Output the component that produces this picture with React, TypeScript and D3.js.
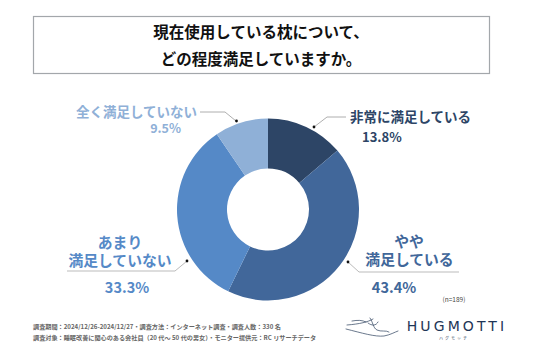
import React from "react";
import * as d3 from "d3";

const categories = ["非常に満足している", "やや満足している", "あまり満足していない", "全く満足していない"];
const values = [13.8, 43.4, 33.3, 9.5];
const colors = ["#2d4566", "#41679a", "#5589c7", "#8fb0d7"];
const titleLines = ["現在使用している枕について、", "どの程度満足していますか。"];
const footerLines = [
  "調査期間：2024/12/26-2024/12/27・調査方法：インターネット調査・調査人数：330 名",
  "調査対象：睡眠改善に関心のある会社員（20 代～ 50 代の男女）・モニター提供元：RC リサーチデータ",
];
const sampleNote = "(n=189)";

const FONT = "'Noto Sans CJK JP', 'Noto Sans', sans-serif";

export default function App() {
  const W = 536, H = 357;
  const cx = 268, cy = 209.5;
  const pie = d3.pie<number>().sort(null).startAngle(0).endAngle(2 * Math.PI);
  const arcs = pie(values);
  const arc = d3.arc<d3.PieArcDatum<number>>().innerRadius(41).outerRadius(91);
  const fmt = (v: number) => `${v.toFixed(1)}%`;

  return (
    <svg width={W} height={H} style={{ position: "absolute", left: 0, top: 0, background: "#fff" }} fontFamily={FONT}>
      <rect x={0} y={0} width={W} height={H} fill="#fff" />
      {/* title box */}
      <rect x={33.5} y={16.5} width={456} height={57} fill="#fff" stroke="#a3a7ab" strokeWidth={1.2} />
      {titleLines.map((t, i) => (
        <text key={i} x={261} y={38 + i * 27} textAnchor="middle" fontSize={15.5} fontWeight={700} fill="#111">{t}</text>
      ))}

      {/* donut */}
      <g transform={`translate(${cx},${cy})`}>
        {arcs.map((a, i) => (
          <path key={i} d={arc(a) || ""} fill={colors[i]} />
        ))}
      </g>

      {/* label 0: 非常に満足している */}
      <polyline points="314,127 327,117 346,117" fill="none" stroke="#999" strokeWidth={0.8} />
      <circle cx={314} cy={127} r={1.4} fill="#111" />
      <text x={350} y={122} fontSize={13.5} fontWeight={700} fill={colors[0]}>{categories[0]}</text>
      <text x={362} y={142} fontSize={13} fontWeight={700} fill={colors[0]}>{fmt(values[0])}</text>

      {/* label 3: 全く満足していない */}
      <polyline points="200,112 225,112 236,121" fill="none" stroke="#999" strokeWidth={0.8} />
      <circle cx={236.5} cy={121} r={1.4} fill="#111" />
      <text x={197} y={116.5} textAnchor="end" fontSize={13.5} fontWeight={700} fill={colors[3]}>{categories[3]}</text>
      <text x={181} y={132.5} textAnchor="end" fontSize={12.5} fontWeight={700} fill={colors[3]}>{fmt(values[3])}</text>

      {/* label 2: あまり満足していない */}
      <polyline points="67,271 175,271 187,261" fill="none" stroke="#aaa" strokeWidth={0.8} />
      <circle cx={187} cy={261} r={1.4} fill="#111" />
      <text x={120} y={247.5} textAnchor="middle" fontSize={14.8} fontWeight={700} fill={colors[2]}>あまり</text>
      <text x={120} y={266} textAnchor="middle" fontSize={14.8} fontWeight={700} fill={colors[2]}>満足していない</text>
      <text x={127} y={293} textAnchor="middle" fontSize={14.5} fontWeight={700} fill={colors[2]}>{fmt(values[2])}</text>

      {/* label 1: やや満足している */}
      <polyline points="348,262 359,272 459,272" fill="none" stroke="#aaa" strokeWidth={0.8} />
      <circle cx={348} cy={262} r={1.4} fill="#111" />
      <text x={409} y={246.5} textAnchor="middle" fontSize={14.8} fontWeight={700} fill={colors[1]}>やや</text>
      <text x={409.5} y={265} textAnchor="middle" fontSize={14.8} fontWeight={700} fill={colors[1]}>満足している</text>
      <text x={394} y={293} textAnchor="middle" fontSize={14.5} fontWeight={700} fill={colors[1]}>{fmt(values[1])}</text>

      <text x={454} y={301.5} textAnchor="middle" fontSize={6.5} fill="#444">{sampleNote}</text>

      {/* footer */}
      {footerLines.map((t, i) => (
        <text key={i} x={33} y={328.5 + i * 11.5} fontSize={6.15} fontWeight={700} fill="#666">{t}</text>
      ))}

      {/* logo */}
      <g fill="none" stroke="#2b3f5c" strokeWidth={0.7} strokeLinecap="round">
        <path d="M347,325 C360,324 368,322 373,319" />
        <path d="M352,321 C358,320 362,320 366,322" />
        <path d="M346,329 C362,333 375,337 384,336 C390,335 395,332 398,331" />
        <path d="M370,318 C373,322 373,328 377,330 C381,332 386,330 389,332" />
        <path d="M368,323 C372,326 376,326 378,322" />
      </g>
      <text x={457} y={330.5} textAnchor="middle" fontSize={14} letterSpacing={3.1} fontFamily="'DejaVu Sans', sans-serif" fill="#1e3556">HUGMOTTI</text>
      <text x={454} y={340} textAnchor="middle" fontSize={4} letterSpacing={2} fill="#1e3556">ハグモッチ</text>
    </svg>
  );
}
